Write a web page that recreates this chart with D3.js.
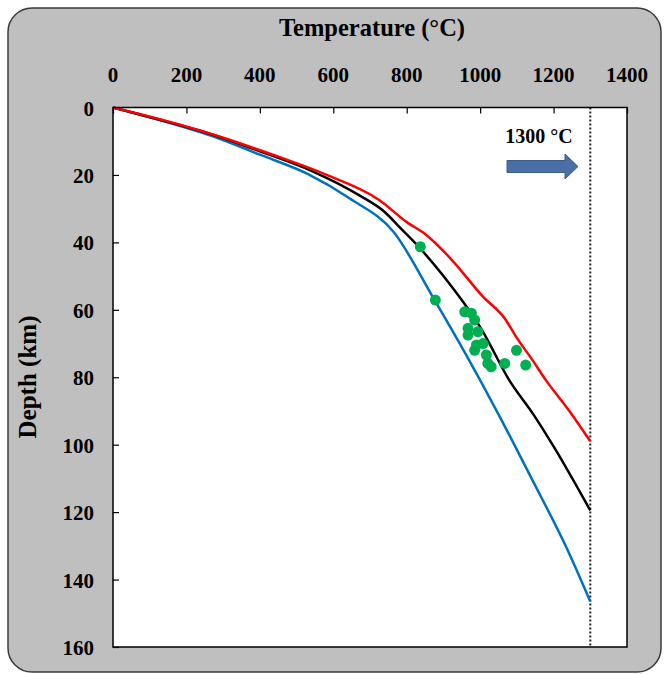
<!DOCTYPE html>
<html>
<head>
<meta charset="utf-8">
<script src="https://cdn.jsdelivr.net/npm/d3@7"></script>
<style>
  body { margin: 0; background: #fff; }
  text { font-family: "Liberation Serif", "Times New Roman", serif; font-weight: bold; }
</style>
</head>
<body>
<script>
// Geotherm curves: [temperature C, depth km]
var redLine = [[0, 0], [75, 2], [272, 8], [435, 14], [582, 20], [726, 27.5], [800, 34], [850, 37.5],
               [917, 44.5], [1007, 56], [1070, 63], [1095, 67.5], [1143, 75], [1180, 81], [1243, 90], [1300, 99]];
var blackLine = [[0, 0], [70, 2], [270, 8], [400, 13], [545, 19], [670, 26], [740, 31], [785, 36],
                 [830, 41], [900, 50], [1005, 66], [1080, 81], [1145, 91], [1200, 100.5], [1300, 119.5]];
var blueLine = [[0, 0], [70, 2], [270, 8.5], [400, 14], [530, 19.7], [645, 27], [765, 37], [870, 56],
                [960, 73], [1050, 91], [1140, 110], [1235, 130.5], [1300, 146.5]];

// Green sample points
var samples = [[837, 41.3], [878, 57.1], [958, 60.6], [976, 61], [985, 63], [967, 65.5], [994, 66.5],
               [967, 67.5], [990, 70.4], [1008, 70], [985, 72], [1017, 73.4], [1021, 75.9], [1030, 76.9],
               [1067, 75.9], [1099, 72], [1124, 76.4]];

var xTicks = [0, 200, 400, 600, 800, 1000, 1200, 1400];
var yTicks = [0, 20, 40, 60, 80, 100, 120, 140, 160];
var limitTemp = 1300;

var W = 664, H = 674;
var svg = d3.select('body').append('svg').attr('width', W).attr('height', H);

// grey rounded frame
svg.append('rect')
    .attr('x', 8).attr('y', 8).attr('width', 653).attr('height', 664)
    .attr('rx', 24).attr('ry', 24)
    .attr('fill', '#bfbfbf').attr('stroke', '#3a3a3a').attr('stroke-width', 1.5);

var pL = 113, pR = 627, pT = 107.5, pB = 647;
var x = d3.scaleLinear().domain([0, 1400]).range([pL, pR]);
var y = d3.scaleLinear().domain([0, 160]).range([pT, pB]);

svg.append('rect')
    .attr('x', pL).attr('y', pT).attr('width', pR - pL).attr('height', pB - pT)
    .attr('fill', '#fff');

// axes with inward ticks
var xAxis = svg.append('g').attr('transform', 'translate(0,' + pT + ')')
    .call(d3.axisBottom(x).tickValues(xTicks).tickSize(6).tickFormat(''));
var yAxis = svg.append('g').attr('transform', 'translate(' + pL + ',0)')
    .call(d3.axisRight(y).tickValues(yTicks).tickSize(6).tickFormat(''));
[xAxis, yAxis].forEach(function (g) {
    g.select('.domain').remove();
    g.selectAll('line').attr('stroke', '#000').attr('stroke-width', 1.2);
});

// tick labels
svg.selectAll('.xlab').data(xTicks).enter().append('text')
    .attr('x', function (d) { return x(d); }).attr('y', 82)
    .attr('text-anchor', 'middle').attr('font-size', 21).text(function (d) { return d; });
svg.selectAll('.ylab').data(yTicks).enter().append('text')
    .attr('x', 94).attr('y', function (d) { return y(d) + 8; })
    .attr('text-anchor', 'end').attr('font-size', 21).text(function (d) { return d; });

svg.append('text').attr('x', 372).attr('y', 36).attr('text-anchor', 'middle')
    .attr('font-size', 24.5).text('Temperature (°C)');
svg.append('text').attr('transform', 'translate(36,377) rotate(-90)').attr('text-anchor', 'middle')
    .attr('font-size', 25).text('Depth (km)');

// 1300 C dotted line
svg.append('line')
    .attr('x1', x(limitTemp)).attr('x2', x(limitTemp)).attr('y1', pT).attr('y2', pB)
    .attr('stroke', '#222').attr('stroke-width', 2).attr('stroke-dasharray', '2,2');

var line = d3.line().curve(d3.curveMonotoneX)
    .x(function (d) { return x(d[0]); }).y(function (d) { return y(d[1]); });
[[blueLine, '#0070c0'], [blackLine, '#000'], [redLine, '#ff0000']].forEach(function (s) {
    svg.append('path').datum(s[0]).attr('d', line)
        .attr('fill', 'none').attr('stroke', s[1]).attr('stroke-width', 2.5);
});

svg.selectAll('circle').data(samples).enter().append('circle')
    .attr('cx', function (d) { return x(d[0]); }).attr('cy', function (d) { return y(d[1]); })
    .attr('r', 5.5).attr('fill', '#00b050');

// plot border on top
svg.append('rect')
    .attr('x', pL).attr('y', pT).attr('width', pR - pL).attr('height', pB - pT)
    .attr('fill', 'none').attr('stroke', '#000').attr('stroke-width', 1.5);

// arrow with label
svg.append('text').attr('x', 539).attr('y', 143).attr('text-anchor', 'middle')
    .attr('font-size', 20).text('1300 °C');
var ax0 = 507, ax1 = 578, ay = 166.5;
svg.append('path')
    .attr('d', 'M' + ax0 + ',' + (ay - 6) + 'H565V' + (ay - 12.5) + 'L' + ax1 + ',' + ay +
               'L565,' + (ay + 12.5) + 'V' + (ay + 6) + 'H' + ax0 + 'Z')
    .attr('fill', '#4a6fa5').attr('stroke', '#385d8a').attr('stroke-width', 1);
</script>
</body>
</html>
